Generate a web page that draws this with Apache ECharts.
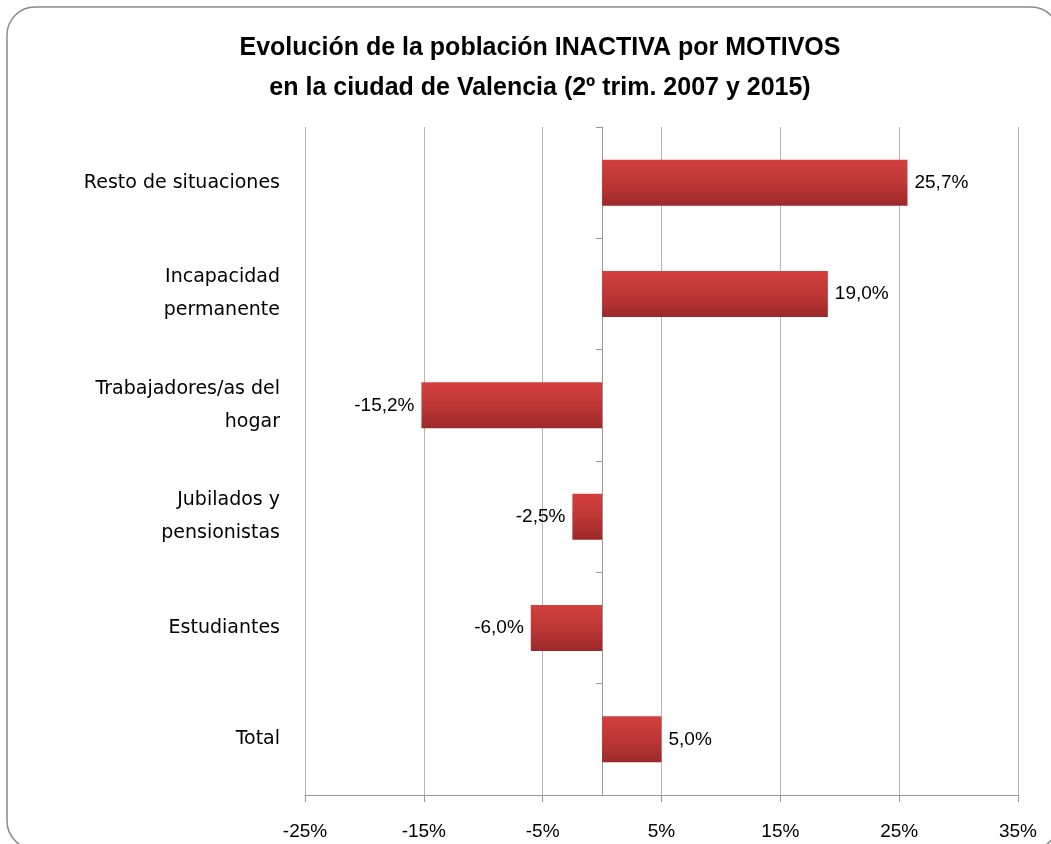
<!DOCTYPE html>
<html>
<head>
<meta charset="UTF-8">
<title>Población inactiva por motivos</title>
<script src="https://cdn.jsdelivr.net/npm/echarts@6/dist/echarts.min.js"></script>
<style>
	html, body { margin:0; padding:0; background:#fff; }
	#chart { width:1051px; height:844px; }
</style>
</head>
<body>
<div id="chart"></div>
<script type="text/javascript">
	var categories = ['Resto de situaciones', 'Incapacidad\npermanente', 'Trabajadores/as del\nhogar', 'Jubilados y\npensionistas', 'Estudiantes', 'Total'];
	var values = [25.7, 19.0, -15.2, -2.5, -6.0, 5.0];
	var tickMin = -25, tickMax = 35, tickStep = 10;

	var font = '"Liberation Sans", Arial, sans-serif';
	var chart = echarts.init(document.getElementById('chart'));
	var options = {
		animation: false,
		textStyle: { fontFamily: font },
		graphic: [{
			type: 'rect',
			shape: { x: 7, y: 7, width: 1052, height: 842, r: 28 },
			style: { fill: 'none', stroke: '#8a8a8a', lineWidth: 1.5 }
		}],
		title: {
			text: 'Evolución de la población INACTIVA por MOTIVOS\nen la ciudad de Valencia (2º trim. 2007 y 2015)',
			left: 535, textAlign: 'center', top: 23,
			textStyle: { fontSize: 25, fontWeight: 'bold', color: '#000', lineHeight: 40, fontFamily: font }
		},
		grid: { left: 305, right: 33, top: 127, bottom: 49 },
		xAxis: {
			type: 'value', min: tickMin, max: tickMax, interval: tickStep,
			axisLine: { show: true, onZero: false, lineStyle: { color: '#999' } },
			axisTick: { show: true, length: 7, lineStyle: { color: '#999' } },
			axisLabel: { margin: 27, fontSize: 19, color: '#000', formatter: '{value}%' },
			splitLine: { show: true, lineStyle: { color: '#b5b5b5', width: 1 } }
		},
		yAxis: [{
			type: 'category', data: categories, inverse: true,
			axisLine: { show: false, onZero: false }, axisTick: { show: false },
			axisLabel: { margin: 25, fontSize: 19, color: '#000', lineHeight: 33, align: 'right',
				fontFamily: '"DejaVu Sans", sans-serif' }
		}, {
			type: 'category', data: categories, inverse: true, position: 'left',
			axisLine: { show: true, onZero: true, lineStyle: { color: '#999' } },
			axisTick: { show: true, length: 6, lineStyle: { color: '#999' } },
			axisLabel: { show: false }
		}],
		series: [{
			type: 'bar',
			yAxisIndex: 0,
			data: values,
			barWidth: 46,
			itemStyle: {
				color: new echarts.graphic.LinearGradient(0, 0, 0, 1, [
					{ offset: 0, color: '#d3403e' },
					{ offset: 0.5, color: '#bd3735' },
					{ offset: 1, color: '#9c2929' }
				])
			},
			label: {
				show: true, position: 'right', distance: 7,
				fontSize: 19, color: '#000',
				formatter: function (p) {
					return p.value.toFixed(1).replace('.', ',') + '%';
				}
			}
		}]
	};
	// labels of negative bars sit on their left
	options.series[0].data = values.map(function (v) {
		return v < 0 ? { value: v, label: { position: 'left' } } : v;
	});
	chart.setOption(options);
</script>
</body>
</html>
